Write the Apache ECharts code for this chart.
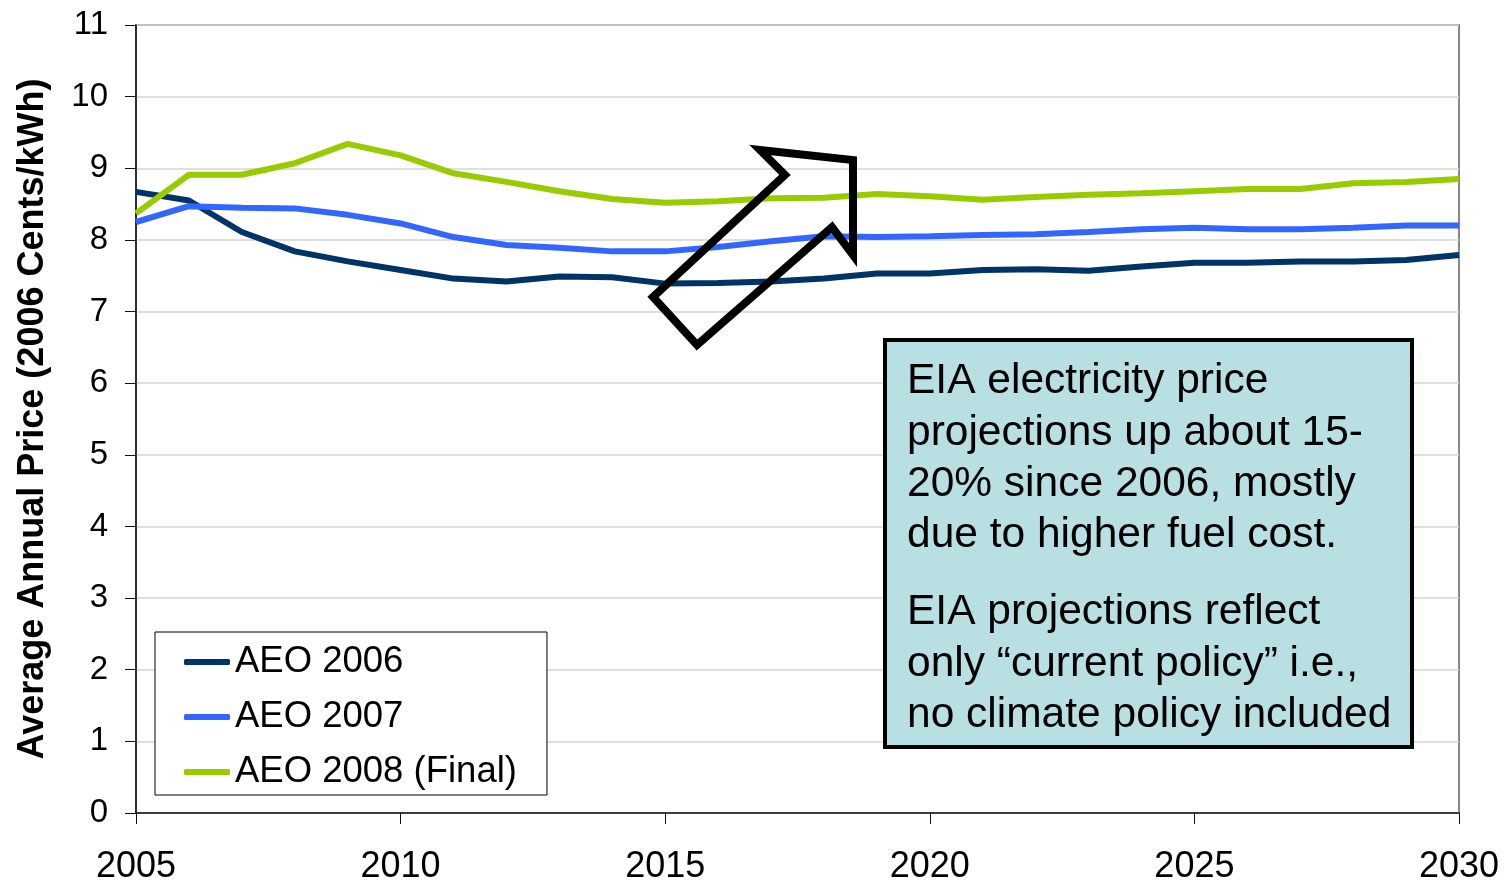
<!DOCTYPE html>
<html>
<head>
<meta charset="utf-8">
<title>EIA electricity price projections</title>
<script src="https://cdn.jsdelivr.net/npm/echarts@6/dist/echarts.min.js"></script>
<style>
    html, body { margin: 0; padding: 0; background: #fff; }
    #chart { width: 1505px; height: 883px; }
</style>
</head>
<body>
<div id="chart"></div>
<script>
// years on the x axis
var years = [2005, 2006, 2007, 2008, 2009, 2010, 2011, 2012, 2013, 2014, 2015, 2016, 2017,
    2018, 2019, 2020, 2021, 2022, 2023, 2024, 2025, 2026, 2027, 2028, 2029, 2030];

// price projections, 2006 cents/kWh
var aeo2006 = [8.67, 8.55, 8.11, 7.84, 7.70, 7.58, 7.46, 7.42, 7.49, 7.48, 7.39, 7.40, 7.42,
    7.46, 7.53, 7.53, 7.58, 7.59, 7.57, 7.63, 7.68, 7.68, 7.70, 7.70, 7.72, 7.79];
var aeo2007 = [8.25, 8.47, 8.45, 8.44, 8.35, 8.23, 8.04, 7.93, 7.89, 7.84, 7.84, 7.90, 7.98,
    8.05, 8.04, 8.05, 8.07, 8.08, 8.11, 8.15, 8.17, 8.15, 8.15, 8.17, 8.20, 8.20];
var aeo2008 = [8.37, 8.91, 8.91, 9.07, 9.34, 9.18, 8.93, 8.81, 8.68, 8.57, 8.52, 8.54, 8.58,
    8.59, 8.64, 8.61, 8.56, 8.60, 8.63, 8.65, 8.68, 8.71, 8.71, 8.79, 8.81, 8.85];

var seriesNames = ['AEO 2006', 'AEO 2007', 'AEO 2008 (Final)'];
var seriesColors = ['#003366', '#3366ff', '#99cc00'];

var noteText1 = 'EIA electricity price\nprojections up about 15-\n20% since 2006, mostly\ndue to higher fuel cost.';
var noteText2 = 'EIA projections reflect\nonly \u201ccurrent policy\u201d i.e.,\nno climate policy included';

var FONT = '"Liberation Sans", Arial, sans-serif';

function pairs(vals) {
    return years.map(function (y, i) { return [y, vals[i]]; });
}

var myChart = echarts.init(document.getElementById('chart'));

var lineSeries = [aeo2006, aeo2007, aeo2008].map(function (vals, i) {
    return {
        name: seriesNames[i],
        type: 'line',
        data: pairs(vals),
        symbol: 'none',
        smooth: false,
        color: seriesColors[i],
        lineStyle: { width: 6, color: seriesColors[i] },
        z: 3
    };
});

var option = {
    backgroundColor: '#fff',
    animation: false,
    grid: {
        left: 136,
        right: 46,
        top: 25,
        bottom: 70,
        outerBoundsMode: 'none',
        show: true,
        borderColor: '#888',
        borderWidth: 2,
        backgroundColor: 'transparent'
    },
    xAxis: {
        type: 'value',
        min: 2005,
        max: 2030,
        interval: 5,
        axisLine: { show: true, lineStyle: { color: '#111', width: 1.5 } },
        axisTick: { show: true, length: 11, lineStyle: { color: '#111', width: 1 } },
        splitLine: { show: false },
        axisLabel: {
            fontSize: 36,
            color: '#000',
            fontFamily: FONT,
            margin: 36,
            formatter: function (v) { return String(v); }
        }
    },
    yAxis: {
        type: 'value',
        min: 0,
        max: 11,
        interval: 1,
        name: 'Average Annual Price (2006 Cents/kWh)',
        nameLocation: 'middle',
        nameGap: 85,
        nameMoveOverlap: false,
        nameTextStyle: {
            fontSize: 36,
            fontWeight: 'bold',
            color: '#000',
            fontFamily: FONT
        },
        axisLine: { show: true, lineStyle: { color: '#111', width: 1.5 } },
        axisTick: { show: true, length: 11, lineStyle: { color: '#111', width: 1 } },
        splitLine: { show: true, lineStyle: { color: '#d4d4d4', width: 1.5 } },
        axisLabel: {
            fontSize: 33,
            color: '#000',
            fontFamily: FONT,
            margin: 28
        }
    },
    legend: {
        orient: 'vertical',
        left: 155,
        top: 632,
        data: seriesNames,
        icon: 'roundRect',
        itemWidth: 46,
        itemHeight: 6,
        itemGap: 15,
        padding: [10, 30, 3, 29],
        backgroundColor: '#fff',
        borderColor: '#000',
        borderWidth: 1,
        textStyle: {
            fontSize: 36.5,
            lineHeight: 40,
            color: '#000',
            fontFamily: FONT
        }
    },
    graphic: [
        {
            // hollow arrow
            type: 'polygon',
            z: 50,
            shape: {
                points: [[760, 150], [853, 160], [853, 255], [832, 227],
                         [697, 345], [653, 297], [785, 175]]
            },
            style: { fill: 'none', stroke: '#000', lineWidth: 8, lineJoin: 'miter' }
        },
        {
            type: 'rect',
            z: 60,
            shape: { x: 885, y: 340, width: 527, height: 407 },
            style: { fill: '#b8dfe1', stroke: '#000', lineWidth: 4 }
        },
        {
            type: 'text',
            z: 61,
            x: 907,
            y: 356,
            style: {
                text: noteText1,
                font: '42.5px ' + FONT,
                fill: '#000',
                lineHeight: 51.3,
                textVerticalAlign: 'top'
            }
        },
        {
            type: 'text',
            z: 61,
            x: 907,
            y: 587,
            style: {
                text: noteText2,
                font: '42.5px ' + FONT,
                fill: '#000',
                lineHeight: 51.3,
                textVerticalAlign: 'top'
            }
        }
    ],
    series: lineSeries
};

myChart.setOption(option);
</script>
</body>
</html>
